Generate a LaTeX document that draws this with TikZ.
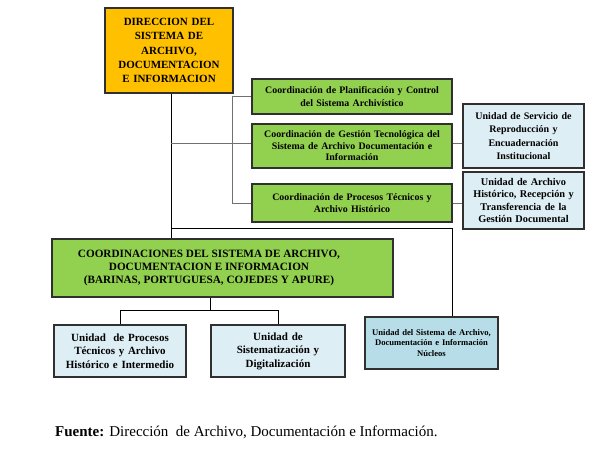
\documentclass[tikz,border=0pt]{standalone}
\usepackage{fontspec}
\setmainfont{Liberation Serif}
\usetikzlibrary{calc}
\definecolor{orangebox}{HTML}{FFC000}
\definecolor{greenbox}{HTML}{92D050}
\definecolor{lightblue}{HTML}{DDEEF4}
\definecolor{midblue}{HTML}{B7DEE8}
\definecolor{edge}{HTML}{303030}
\definecolor{grayline}{HTML}{707070}
\tikzset{
  orgbox/.style={draw=edge, line width=1.1pt, inner sep=0pt, align=center, font=\bfseries},
  trunkline/.style={draw=black, line width=0.8pt},
  grayconn/.style={draw=grayline, line width=1pt},
}
\begin{document}
\begin{tikzpicture}[x=1pt,y=-1pt]
\useasboundingbox (0,0) rectangle (597,460);
% main boxes
\node[orgbox, fill=orangebox, minimum width=128pt, minimum height=85pt, text width=124pt,
  font=\bfseries\fontsize{11}{14.2}\selectfont] (dir) at (169,50.5)
  {DIRECCION DEL\\SISTEMA DE\\ARCHIVO,\\DOCUMENTACION\\E INFORMACION};
\node[orgbox, fill=greenbox, minimum width=200pt, minimum height=35pt, text width=198pt,
  font=\bfseries\fontsize{9.9}{12.2}\selectfont] (g1) at (352,96.5)
  {Coordinación de Planificación y Control\\del Sistema Archivístico};
\node[orgbox, fill=greenbox, minimum width=200pt, minimum height=44pt, text width=198pt,
  font=\bfseries\fontsize{9.9}{11.6}\selectfont] (g2) at (352,146)
  {Coordinación de Gestión Tecnológica del\\Sistema de Archivo Documentación e\\Información};
\node[orgbox, fill=greenbox, minimum width=200pt, minimum height=38pt, text width=198pt,
  font=\bfseries\fontsize{9.9}{11.7}\selectfont] (g3) at (352,203)
  {Coordinación de Procesos Técnicos y\\Archivo Histórico};
\node[orgbox, fill=lightblue, minimum width=121pt, minimum height=64pt, text width=119pt,
  font=\bfseries\fontsize{10}{13.4}\selectfont] (b1) at (523.5,136)
  {Unidad de Servicio de\\Reproducción y\\Encuadernación\\Institucional};
\node[orgbox, fill=lightblue, minimum width=121pt, minimum height=57pt, text width=119pt,
  font=\bfseries\fontsize{10.3}{12.5}\selectfont] (b2) at (523.5,200.5)
  {Unidad de Archivo\\Histórico, Recepción y\\Transferencia de la\\Gestión Documental};
\node[orgbox, fill=greenbox, minimum width=341pt, minimum height=58pt,
  font=\bfseries\fontsize{11.2}{12.7}\selectfont] (coord) at (222.5,268)
  {\begin{tabular}{@{}c@{}}COORDINACIONES DEL SISTEMA DE ARCHIVO,\\DOCUMENTACION E INFORMACION\\(BARINAS, PORTUGUESA, COJEDES Y APURE)\end{tabular}\hspace*{27pt}};
\node[orgbox, fill=lightblue, minimum width=132pt, minimum height=52pt, text width=130pt,
  font=\bfseries\fontsize{11}{13.5}\selectfont] (u1) at (120,351)
  {Unidad\ \ de Procesos\\Técnicos y Archivo\\Histórico e Intermedio};
\node[orgbox, fill=lightblue, minimum width=134pt, minimum height=52pt, text width=130pt,
  font=\bfseries\fontsize{11}{13.5}\selectfont] (u2) at (278,351)
  {Unidad de\\Sistematización y\\Digitalización};
\node[orgbox, fill=midblue, minimum width=133pt, minimum height=52pt, text width=131pt,
  font=\bfseries\fontsize{8.6}{10.8}\selectfont] (nuc) at (431.5,343)
  {Unidad del Sistema de Archivo,\\Documentación e Información\\Núcleos};
% connector columns
\coordinate (t) at (171,0);
\coordinate (br) at (232,0);
\coordinate (nx) at (452,228);
\coordinate (cx) at (210,310);
% trunk
\draw[trunkline] (dir.south -| t) -- (coord.north -| t);
\draw[trunkline] (t |- nx) -- (nx) -- (nuc.north -| nx);
% green coordinations
\draw[grayconn] (t |- 0,143) -- (g2.west |- 0,143);
\draw[grayconn] (g1.west) -- (br |- g1.west) -- (br |- g3.west) -- (g3.west);
\draw[grayconn] (g2.east |- 0,143) -- (b1.west |- 0,143);
\draw[grayconn] (g3.east) -- (b2.west |- g3.east);
% lower units
\draw[trunkline] (coord.south -| cx) -- (cx);
\draw[trunkline] (u1.north |- cx) -- (u2.north |- cx);
\draw[trunkline] (u1.north |- cx) -- (u1.north);
\draw[trunkline] (u2.north |- cx) -- (u2.north);
% source
\node[anchor=base west, inner sep=0pt, font=\fontsize{15}{18}\selectfont] (src) at (55,436)
  {\textbf{Fuente:} Dirección\ \ de Archivo, Documentación e Información.};
\end{tikzpicture}
\end{document}
